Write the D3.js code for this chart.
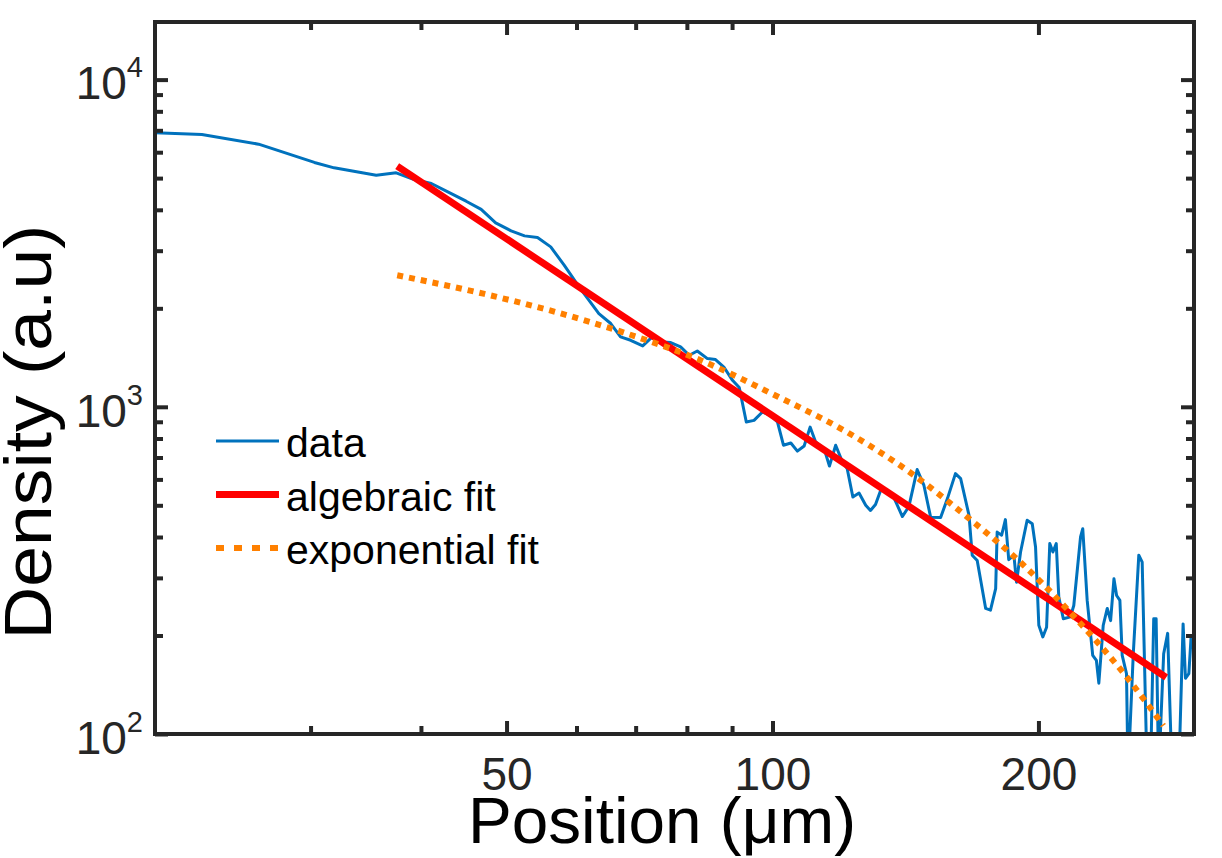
<!DOCTYPE html>
<html>
<head>
<meta charset="utf-8">
<script src="https://cdn.jsdelivr.net/npm/d3@7"></script>
<style>
body { margin: 0; background: #fff; }
text { font-family: "Liberation Sans", Arial, Helvetica, sans-serif; }
</style>
</head>
<body>
<div id="density-graph"></div>
<script>
// measured profile (position in um, density in a.u)
const posData = [20, 22.6, 26.2, 30.3, 31.9, 35.6, 37.5, 39.3, 41.1, 42.9,
	45.0, 46.8, 48.6, 50.6, 52.4, 54.2, 56.1, 58.1, 60.4, 63.6,
	65.6, 67.3, 69.1, 71.3, 73.1, 75.1, 76.7, 78.7, 80.5, 82.2,
	84.4, 86.2, 88.1, 90.1, 91.7, 93.4, 95.3, 97.4, 99.5, 101.3,
	102.9, 104.9, 106.7, 108.6, 110.3, 111.9, 114.4, 116.0, 117.9, 120.0,
	121.5, 123.3, 125.3, 127.5, 129.1, 130.8, 132.9, 136.7, 140.3, 142.7,
	145.8, 148.4, 151.0, 155.0, 157.8, 161.1, 163.3, 166.9, 168.3, 170.5,
	174.3, 176.5, 178.9, 179.6, 181.7, 183.5, 185.1, 187.6, 188.9, 190.9,
	194.2, 196.8, 198.5, 200.2, 202.3, 204.3, 206.0, 207.7, 209.5, 210.9,
	213.4, 217.4, 219.3, 223.2, 224.5, 227.1, 230.4, 232.6, 234.1, 236.8,
	239.3, 241.4, 243.5, 245.2, 247.3, 248.8, 251.6, 252.6, 256.1, 259.8,
	262.1, 265.5, 267.8, 270.1, 271.8, 273.6, 277.2, 280.1, 283.3, 288.3,
	291.6, 293.4, 296.0, 297.8, 299.5, 300];
const densData = [6877, 6800, 6350, 5583, 5375, 5105, 5188, 4952, 4815, 4539,
	4250, 4011, 3649, 3449, 3330, 3292, 3082, 2709, 2325, 1928,
	1797, 1635, 1597, 1535, 1635, 1578, 1572, 1524, 1437, 1481,
	1404, 1394, 1323, 1205, 1145, 899, 909, 964, 942, 899,
	763, 775, 732, 759, 867, 781, 745, 659, 763, 678,
	647, 530, 545, 500, 482, 503, 566, 540, 462, 496,
	643, 575, 460, 459, 525, 625, 603, 466, 352, 339,
	242, 239, 278, 414, 405, 452, 341, 352, 291, 360,
	450, 439, 373, 215, 198, 212, 382, 360, 382, 262,
	225, 228, 247, 400, 424, 256, 174, 168, 143, 215,
	242, 222, 298, 265, 256, 174, 153, 75, 176, 352,
	335, 75, 75, 225, 225, 75, 176, 203, 75, 75,
	217, 148, 153, 200, 198, 75];

// algebraic (power law) fit: straight in log-log, end points
const algPos = [37.6, 279];
const algDens = [5440, 149];

// exponential fit
const expPos = [37.6, 47.2, 57.1, 68.8, 82.9, 101.6, 120.4, 142.1, 166.2, 192.4, 220.3, 250.9, 277];
const expDens = [2524, 2213, 1942, 1666, 1388, 1071, 848, 639, 460, 328, 226, 151, 106];

const xMajor = [50, 100, 200];
const xMinor = [30, 40, 60, 70, 80, 90];
const yMajor = [100, 1000, 10000];
const yMinor = [200, 300, 400, 500, 600, 700, 800, 900, 2000, 3000, 4000, 5000, 6000, 7000, 8000, 9000];
const seriesNames = ["data", "algebraic fit", "exponential fit"];

const width = 1222;
const height = 858;
const margin = ({top: 22, right: 28, bottom: 124, left: 155});
const axisColor = "#262626";

const x = d3.scaleLog().domain([20, 300]).range([margin.left, width - margin.right]);
const y = d3.scaleLog().domain([100, 15000]).range([height - margin.bottom, margin.top]);

const graph = d3.select("#density-graph").append("svg")
	.attr("width", width)
	.attr("height", height);

graph.append("defs").append("clipPath")
	.attr("id", "plot-area")
	.append("rect")
		.attr("x", margin.left)
		.attr("y", margin.top)
		.attr("width", width - margin.right - margin.left)
		.attr("height", height - margin.bottom - margin.top);

const line = d3.line()
	.x(d => x(d[0]))
	.y(d => y(d[1]));

const plot = graph.append("g").attr("clip-path", "url(#plot-area)");

// data
plot.append("path")
	.datum(posData.map((p, i) => [p, densData[i]]))
	.attr("fill", "none")
	.attr("stroke", "#0072BD")
	.attr("stroke-width", 3)
	.attr("stroke-linejoin", "round")
	.attr("d", line);

// algebraic fit
plot.append("path")
	.datum(algPos.map((p, i) => [p, algDens[i]]))
	.attr("fill", "none")
	.attr("stroke", "#FF0000")
	.attr("stroke-width", 7)
	.attr("d", line);

// exponential fit
plot.append("path")
	.datum(expPos.map((p, i) => [p, expDens[i]]))
	.attr("fill", "none")
	.attr("stroke", "#FF8000")
	.attr("stroke-width", 6)
	.attr("stroke-dasharray", "6,6")
	.attr("d", line.curve(d3.curveMonotoneX));
line.curve(d3.curveLinear);

// ticks pointing inward on all four sides
const tickAxis = function (axis, values, size, transform) {
	graph.append("g")
		.attr("transform", transform)
		.call(axis.tickValues(values).tickSizeInner(-size).tickSizeOuter(0).tickFormat(""))
		.call(g => g.select(".domain").remove())
		.call(g => g.selectAll(".tick line").attr("stroke", axisColor).attr("stroke-width", 4));
};
const xB = `translate(0,${height - margin.bottom})`;
const xT = `translate(0,${margin.top})`;
const yL = `translate(${margin.left},0)`;
const yR = `translate(${width - margin.right},0)`;
tickAxis(d3.axisBottom(x), xMajor, 13, xB);
tickAxis(d3.axisBottom(x), xMinor, 8, xB);
tickAxis(d3.axisTop(x), xMajor, 13, xT);
tickAxis(d3.axisTop(x), xMinor, 8, xT);
tickAxis(d3.axisLeft(y), yMajor, 13, yL);
tickAxis(d3.axisLeft(y), yMinor, 8, yL);
tickAxis(d3.axisRight(y), yMajor, 13, yR);
tickAxis(d3.axisRight(y), yMinor, 8, yR);

// box
graph.append("rect")
	.attr("x", margin.left)
	.attr("y", margin.top)
	.attr("width", width - margin.right - margin.left)
	.attr("height", height - margin.bottom - margin.top)
	.attr("fill", "none")
	.attr("stroke", axisColor)
	.attr("stroke-width", 4);

// tick labels
graph.append("g")
	.attr("transform", xB)
	.call(d3.axisBottom(x).tickValues(xMajor).tickSize(0).tickPadding(23).tickFormat(d3.format("d")))
	.call(g => g.select(".domain").remove())
	.call(g => g.selectAll("text")
		.attr("fill", axisColor)
		.attr("font-size", 46)
		.attr("font-family", null));

graph.append("g")
	.attr("transform", yL)
	.call(d3.axisLeft(y).tickValues(yMajor).tickSize(0).tickPadding(12).tickFormat(""))
	.call(g => g.select(".domain").remove())
	.call(g => g.selectAll("text")
		.attr("fill", axisColor)
		.attr("font-size", 46)
		.attr("font-family", null)
		.attr("dy", "0.42em")
		.each(function (d) {
			const t = d3.select(this);
			t.append("tspan").text("10");
			t.append("tspan")
				.attr("font-size", 29)
				.attr("dy", -22)
				.text(Math.round(Math.log10(d)));
		}));

// axis labels (the original renders them a little wider than Arial)
graph.append("text")
	.attr("x", 662)
	.attr("y", 843)
	.attr("font-size", 64)
	.attr("fill", "black")
	.attr("textLength", 388)
	.attr("lengthAdjust", "spacingAndGlyphs")
	.style("text-anchor", "middle")
	.text("Position (μm)");

graph.append("text")
	.attr("transform", "translate(51,432) rotate(-90)")
	.attr("font-size", 66)
	.attr("fill", "black")
	.attr("textLength", 415)
	.attr("lengthAdjust", "spacingAndGlyphs")
	.style("text-anchor", "middle")
	.text("Density (a.u)");

// legend
const legendStyles = [
	{stroke: "#0072BD", width: 3, dash: null},
	{stroke: "#FF0000", width: 7, dash: null},
	{stroke: "#FF8000", width: 6, dash: "8,10"}
];
const legend = graph.append("g").attr("transform", "translate(216,441)");
seriesNames.forEach(function (name, i) {
	const row = legend.append("g").attr("transform", `translate(0,${i * 53.5})`);
	row.append("line")
		.attr("x1", 0).attr("x2", 63)
		.attr("stroke", legendStyles[i].stroke)
		.attr("stroke-width", legendStyles[i].width)
		.attr("stroke-dasharray", legendStyles[i].dash);
	row.append("text")
		.attr("x", 70)
		.attr("y", 16)
		.attr("font-size", 41)
		.attr("fill", "black")
		.text(name);
});
</script>
</body>
</html>
